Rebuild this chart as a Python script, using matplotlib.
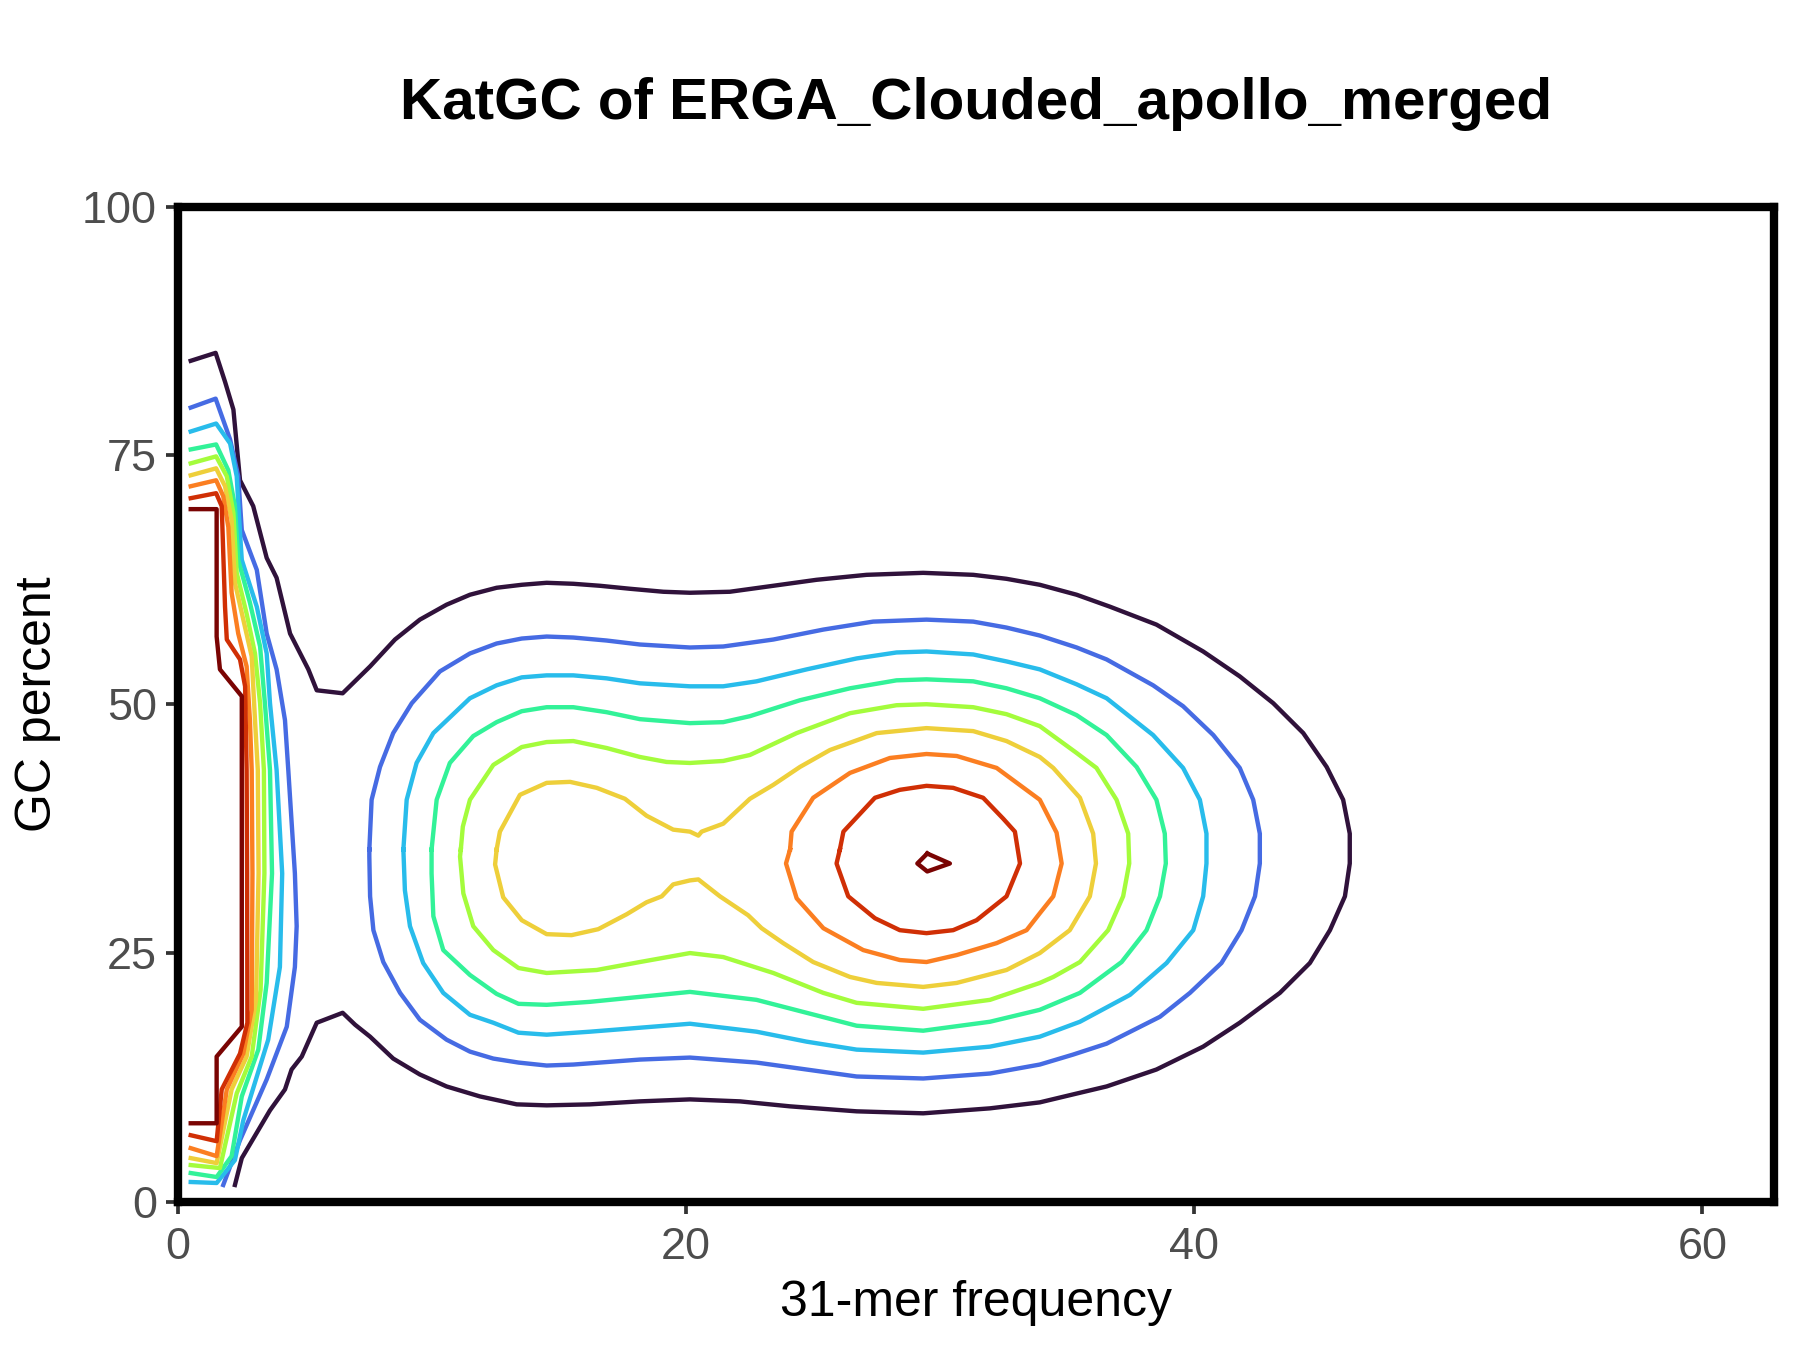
import numpy as np
import matplotlib
matplotlib.use("Agg")
from matplotlib import pyplot as plt

#################################
# data: contour lines (31-mer frequency, GC %)
# level 1 = lowest density (outermost), level 9 = highest
#################################

# level 1: one open line wrapping both peaks
lvl1 = [(0.5, 84.5), (1.48, 85.3), (1.85, 82.4), (2.18, 79.6), (2.44, 72.5), (2.96, 69.9),
        (3.49, 64.7), (3.88, 62.7), (4.41, 57.1), (5.13, 53.5), (5.46, 51.4), (6.48, 51.1),
        (7.56, 53.8), (8.54, 56.5), (9.52, 58.5), (10.57, 60.0), (11.49, 61.0), (12.54, 61.7),
        (13.53, 62.0), (14.51, 62.2), (15.56, 62.1), (16.61, 61.9), (17.79, 61.6), (19.10, 61.3),
        (20.15, 61.2), (21.72, 61.3), (23.43, 61.9), (25.13, 62.5), (27.10, 63.0), (29.33, 63.2),
        (31.30, 63.0), (32.61, 62.6), (33.92, 62.0), (35.37, 61.0), (36.68, 59.8), (38.51, 58.0),
        (40.35, 55.3), (41.79, 52.8), (43.11, 50.1), (44.29, 47.1), (45.21, 43.7), (45.86, 40.4),
        (46.12, 37.0), (46.12, 34.0), (45.93, 30.7), (45.34, 27.3), (44.55, 24.0), (43.37, 21.0),
        (41.79, 18.0), (40.35, 15.6), (38.51, 13.3), (36.55, 11.6), (35.23, 10.8), (33.92, 10.0),
        (31.96, 9.4), (29.33, 8.9), (26.71, 9.1), (24.09, 9.6), (22.12, 10.1), (20.15, 10.3),
        (18.18, 10.1), (16.21, 9.8), (14.51, 9.7), (13.33, 9.8), (11.88, 10.6), (10.57, 11.6),
        (9.52, 12.8), (8.47, 14.4), (7.56, 16.6), (6.97, 17.8), (6.48, 19.0), (5.46, 18.0),
        (4.87, 14.6), (4.47, 13.3), (4.21, 11.3), (3.62, 9.2), (2.51, 4.4), (2.24, 1.7)]

# levels 2-9: open line at the low-frequency (error k-mer) edge
lvl2_left = [(0.5, 79.8), (1.48, 80.7), (2.05, 76.6), (2.37, 72.9), (2.51, 67.5), (3.10, 63.5),
             (3.49, 57.1), (3.88, 53.5), (4.21, 48.4), (4.34, 43.4), (4.6, 33.0), (4.67, 27.7),
             (4.60, 23.6), (4.28, 17.6), (3.49, 12.3), (2.44, 6.2), (1.78, 1.7)]
lvl3_left = [(0.5, 77.4), (1.5, 78.2), (2.05, 76.2), (2.31, 72.9), (2.44, 67.2), (2.51, 64.5),
             (3.10, 59.8), (3.49, 55.1), (3.62, 50.1), (3.88, 43.4), (4.1, 33.0), (4.01, 23.6),
             (3.55, 16.3), (2.57, 8.2), (2.24, 4.2), (1.52, 1.9), (0.5, 2.0)]
lvl4_left = [(0.5, 75.6), (1.5, 76.1), (1.98, 73.5), (2.24, 69.9), (2.37, 64.5), (2.83, 60.2),
             (3.23, 55.8), (3.42, 50.1), (3.62, 43.4), (3.7, 33.0), (3.49, 22.0), (3.16, 15.3),
             (2.51, 10.6), (2.11, 4.6), (1.52, 2.5), (0.5, 2.9)]
lvl5_left = [(0.5, 74.2), (1.5, 74.9), (1.92, 72.9), (2.18, 69.2), (2.31, 63.2), (2.70, 59.1),
             (3.03, 55.1), (3.23, 50.1), (3.38, 43.4), (3.4, 33.0), (3.25, 21.3), (2.90, 14.6),
             (2.31, 10.9), (1.65, 3.4), (0.5, 3.7)]
lvl6_left = [(0.5, 73.0), (1.5, 73.7), (1.85, 71.9), (2.11, 68.5), (2.24, 62.2), (2.57, 58.5),
             (2.90, 54.8), (3.03, 48.4), (3.14, 43.4), (3.17, 33.0), (3.07, 20.3), (2.70, 14.6),
             (2.11, 11.3), (1.52, 3.9), (0.5, 4.4)]
lvl7_left = [(0.5, 71.9), (1.5, 72.5), (1.78, 70.9), (1.98, 67.8), (2.11, 61.2), (2.37, 57.1),
             (2.70, 53.8), (2.83, 48.4), (2.90, 43.4), (2.93, 33.0), (2.90, 19.3), (2.57, 14.9),
             (1.92, 11.3), (1.52, 4.6), (0.5, 5.4)]
lvl8_left = [(0.5, 70.7), (1.5, 71.2), (1.72, 69.9), (1.78, 65.2), (1.85, 59.8), (1.92, 56.5),
             (2.44, 54.5), (2.64, 51.8), (2.70, 43.4), (2.72, 33.0), (2.73, 18.0), (2.44, 14.9),
             (1.72, 11.3), (1.52, 6.1), (0.5, 6.7)]
lvl9_left = [(0.5, 69.6), (1.52, 69.6), (1.52, 56.8), (1.65, 53.5), (2.51, 50.8), (2.51, 43.4),
             (2.51, 17.6), (1.52, 14.6), (1.52, 7.9), (0.5, 7.9)]

# levels 2-9: closed rings round the main (homozygous / heterozygous) peaks
lvl2_ring = [(7.53, 35.4), (7.62, 40.4), (7.95, 43.7), (8.47, 47.1), (9.20, 50.1), (10.31, 53.3),
             (11.49, 55.1), (12.54, 56.1), (13.53, 56.6), (14.51, 56.8), (15.56, 56.7), (16.87, 56.4),
             (18.18, 56.0), (20.15, 55.7), (21.46, 55.8), (23.43, 56.5), (25.40, 57.5), (27.36, 58.3),
             (29.46, 58.5), (31.30, 58.3), (32.61, 57.7), (33.92, 56.9), (35.37, 55.7), (36.55, 54.5),
             (38.38, 51.9), (39.56, 49.8), (40.75, 46.9), (41.79, 43.6), (42.32, 40.4), (42.58, 37.0),
             (42.58, 34.0), (42.39, 30.7), (41.86, 27.3), (41.07, 24.0), (39.83, 21.0), (38.65, 18.6),
             (36.55, 15.9), (35.23, 14.8), (33.92, 13.8), (31.96, 12.9), (29.33, 12.4), (26.71, 12.6),
             (24.74, 13.3), (22.77, 14.0), (20.15, 14.5), (18.18, 14.3), (15.56, 13.8), (14.51, 13.7),
             (13.40, 14.0), (12.41, 14.4), (11.49, 15.1), (10.57, 16.3), (9.52, 18.3), (8.74, 21.0),
             (8.08, 24.1), (7.69, 27.3), (7.56, 30.7), (7.53, 34.7)]
lvl3_ring = [(8.87, 35.4), (9.00, 40.4), (9.39, 44.1), (10.05, 47.1), (11.49, 50.6), (12.54, 51.9),
             (13.53, 52.7), (14.51, 52.9), (15.56, 52.9), (16.87, 52.6), (18.18, 52.1), (20.15, 51.8),
             (21.46, 51.8), (22.77, 52.3), (24.74, 53.5), (26.71, 54.6), (28.28, 55.2), (29.46, 55.3),
             (31.30, 55.0), (32.61, 54.3), (33.92, 53.5), (35.37, 52.0), (36.55, 50.6), (38.38, 46.9),
             (39.56, 43.6), (40.22, 40.4), (40.48, 37.0), (40.48, 34.0), (40.35, 30.7), (39.96, 27.3),
             (38.91, 24.0), (37.47, 20.8), (35.50, 18.1), (33.92, 16.6), (31.96, 15.6), (29.33, 15.0),
             (26.71, 15.3), (24.74, 16.1), (22.77, 17.1), (20.15, 17.9), (18.18, 17.5), (16.21, 17.1),
             (14.51, 16.8), (13.40, 17.0), (12.41, 18.0), (11.49, 18.8), (10.44, 21.0), (9.65, 24.0),
             (9.13, 27.7), (8.93, 31.3)]
lvl4_ring = [(9.98, 35.4), (10.18, 40.4), (10.70, 44.1), (11.62, 46.8), (12.54, 48.2), (13.53, 49.3),
             (14.51, 49.7), (15.56, 49.7), (16.87, 49.2), (18.18, 48.5), (20.15, 48.1), (21.46, 48.2),
             (22.51, 48.8), (24.48, 50.4), (26.45, 51.6), (28.28, 52.4), (29.46, 52.5), (31.30, 52.3),
             (32.61, 51.6), (33.92, 50.6), (35.37, 48.9), (36.55, 46.9), (37.73, 43.7), (38.51, 40.4),
             (38.84, 37.0), (38.88, 34.0), (38.65, 30.7), (38.12, 27.3), (37.14, 24.1), (35.50, 21.0),
             (33.92, 19.3), (31.96, 18.1), (29.33, 17.2), (26.71, 17.7), (24.74, 19.0), (22.77, 20.3),
             (20.15, 21.1), (18.18, 20.6), (16.21, 20.1), (14.51, 19.8), (13.40, 19.9), (12.54, 20.9),
             (11.49, 22.8), (10.44, 25.3), (10.05, 28.7), (9.98, 33.0)]
lvl5_ring = [(11.13, 35.4), (11.21, 37.7), (11.49, 40.4), (12.41, 43.9), (13.53, 45.7), (14.51, 46.2),
             (15.56, 46.3), (16.87, 45.6), (18.18, 44.7), (19.23, 44.2), (20.15, 44.1), (21.46, 44.3),
             (22.51, 44.9), (24.35, 47.1), (26.45, 49.1), (28.28, 49.9), (29.46, 50.0), (31.30, 49.7),
             (32.61, 49.0), (33.92, 47.8), (35.37, 45.1), (36.15, 43.6), (36.94, 40.4), (37.40, 37.0),
             (37.44, 34.0), (37.20, 30.7), (36.61, 27.3), (35.50, 24.1), (34.45, 22.6), (33.92, 22.0),
             (31.96, 20.3), (29.33, 19.4), (26.71, 20.0), (25.40, 21.0), (23.43, 23.0), (21.46, 24.6),
             (20.15, 25.0), (18.18, 24.1), (16.48, 23.3), (14.51, 23.0), (13.40, 23.5), (12.41, 25.3),
             (11.62, 27.7), (11.23, 31.0), (11.10, 34.7)]
lvl6_ring = [(12.54, 35.4), (12.67, 37.2), (13.46, 40.9), (14.51, 42.1), (15.43, 42.2), (16.48, 41.6),
             (17.59, 40.5), (18.44, 38.8), (19.49, 37.4), (20.15, 37.2), (20.48, 36.8), (20.61, 37.2),
             (21.46, 38.0), (22.51, 40.5), (23.43, 41.9), (24.48, 43.7), (25.66, 45.4), (27.50, 47.1),
             (29.46, 47.6), (31.30, 47.3), (32.61, 46.3), (33.92, 44.7), (34.45, 43.6), (35.50, 40.6),
             (36.02, 37.0), (36.13, 34.0), (35.89, 30.7), (35.10, 27.3), (33.92, 25.0), (32.61, 23.3),
             (30.65, 22.0), (29.33, 21.6), (27.50, 22.0), (26.45, 22.6), (25.00, 24.1), (23.82, 26.0),
             (22.97, 27.5), (22.44, 28.8), (21.33, 30.7), (20.48, 32.4), (20.15, 32.3), (19.49, 31.9),
             (19.04, 30.7), (18.44, 30.1), (17.66, 28.9), (16.54, 27.4), (15.49, 26.8), (14.51, 26.9),
             (13.53, 28.3), (12.80, 30.6), (12.48, 33.9)]
lvl7_ring = [(24.09, 35.4), (24.15, 37.2), (25.00, 40.6), (26.45, 43.1), (28.02, 44.6), (29.46, 45.0),
             (30.65, 44.8), (32.22, 43.6), (33.92, 40.4), (34.58, 37.1), (34.78, 34.0), (34.45, 30.7),
             (33.92, 29.0), (33.40, 27.3), (32.22, 26.0), (30.65, 24.8), (29.46, 24.1), (28.41, 24.3),
             (26.97, 25.3), (25.40, 27.5), (24.35, 30.5), (23.93, 34.0)]
lvl8_ring = [(26.05, 35.4), (26.19, 37.2), (27.43, 40.6), (28.41, 41.4), (29.46, 41.8), (30.51, 41.6),
             (31.69, 40.6), (32.48, 38.5), (32.94, 37.2), (33.14, 34.0), (32.61, 30.7), (31.43, 28.3),
             (30.51, 27.3), (29.46, 27.0), (28.41, 27.3), (27.43, 28.5), (26.38, 30.7), (25.92, 34.0)]
lvl9_ring = [(29.49, 35.0), (30.38, 34.0), (29.49, 33.2), (29.10, 34.0)]

open_lines = [lvl1, lvl2_left, lvl3_left, lvl4_left, lvl5_left,
              lvl6_left, lvl7_left, lvl8_left, lvl9_left]
rings = [None, lvl2_ring, lvl3_ring, lvl4_ring, lvl5_ring,
         lvl6_ring, lvl7_ring, lvl8_ring, lvl9_ring]

title = "KatGC of ERGA_Clouded_apollo_merged"
xlabel = "31-mer frequency"
ylabel = "GC percent"
xticks = [0, 20, 40, 60]
yticks = [0, 25, 50, 75, 100]

#################################
# plot
#################################
plt.rcParams['font.family'] = ['Liberation Sans', 'DejaVu Sans']

fig = plt.figure(figsize=(6, 4.5), dpi=300)
ax = fig.add_axes([0.0989, 0.1097, 0.8864, 0.7373])

colors = plt.get_cmap('turbo')(np.linspace(0, 1, 9))

for i in range(9):
    line = open_lines[i]
    ax.plot([p[0] for p in line], [p[1] for p in line], color=colors[i], lw=1.05)
    ring = rings[i]
    if ring is not None:
        ring = ring + [ring[0]]
        ax.plot([p[0] for p in ring], [p[1] for p in ring], color=colors[i], lw=1.05)

ax.set_xlim(0, 62.8)
ax.set_ylim(0, 100)
ax.set_xticks(xticks)
ax.set_yticks(yticks)
ax.tick_params(axis='both', direction='out', length=2.8, width=0.9, color='#333333',
               labelcolor='#4d4d4d', labelsize=10.8)
ax.tick_params(axis='x', pad=3.2)
ax.tick_params(axis='y', pad=2.3)
for s in ax.spines.values():
    s.set_linewidth(2.0)
    s.set_color('black')

ax.set_xlabel(xlabel, fontsize=12, color='black', labelpad=3)
ax.set_ylabel(ylabel, fontsize=12, color='black', labelpad=5)
fig.text(0.542, 0.923, title, ha='center', va='center', fontsize=14, fontweight='bold')

fig.savefig("out.png", dpi=300)
